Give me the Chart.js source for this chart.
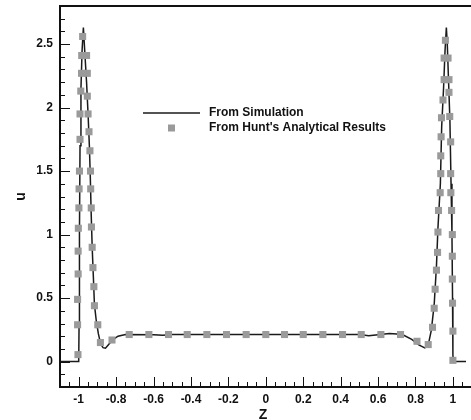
<!DOCTYPE html>
<html>
<head>
<meta charset="utf-8">
<script src="https://cdn.jsdelivr.net/npm/chart.js@4.4.1/dist/chart.umd.min.js"></script>
<style>
  body { margin: 0; background: #fff; }
  #wrap { width: 471px; height: 420px; }
</style>
</head>
<body>
<div id="wrap"><canvas id="u_profile" width="471" height="420"></canvas></div>
<script>
// simulated velocity profile u(Z)
const simZ = [-1.1, -1.0, -0.998, -0.996, -0.993, -0.988, -0.982, -0.975, -0.968, -0.958, -0.95, -0.943,
  -0.938, -0.933, -0.928, -0.922, -0.916, -0.906, -0.895, -0.883, -0.87, -0.857, -0.84, -0.82, -0.79, -0.75,
  -0.6, -0.55, -0.5, -0.3, 0, 0.3, 0.5, 0.55, 0.6, 0.66, 0.7, 0.74, 0.78, 0.82, 0.85, 0.868, 0.885, 0.9,
  0.912, 0.92, 0.933, 0.94, 0.95, 0.958, 0.965, 0.97, 0.977, 0.984, 0.99, 0.995, 0.998, 1.0, 1.003, 1.07];
const simU = [0, 0, 0.3, 1.0, 1.7, 2.15, 2.45, 2.63, 2.45, 2.2, 1.95, 1.7,
  1.45, 1.15, 0.9, 0.68, 0.45, 0.32, 0.22, 0.14, 0.11, 0.105, 0.135, 0.17, 0.2, 0.213,
  0.212, 0.207, 0.213, 0.213, 0.213, 0.213, 0.213, 0.203, 0.212, 0.222, 0.218, 0.205, 0.175, 0.13, 0.108, 0.13, 0.25, 0.45,
  0.75, 1.05, 1.4, 1.85, 2.15, 2.45, 2.63, 2.5, 2.2, 1.9, 1.4, 1.0, 0.5, 0.05, 0, 0];

// Hunt's analytical solution, sampled points
const huntZ = [-1.004, -1.006, -1.006, -1.003, -1.003, -1.002, -0.999, -0.998, -0.996, -0.993, -0.993, -0.989,
  -0.985, -0.984, -0.979, -0.958, -0.954, -0.954, -0.95, -0.945, -0.94, -0.937, -0.936, -0.933, -0.932, -0.928,
  -0.924, -0.919, -0.916, -0.898, -0.884, -0.822,
  -0.73, -0.625, -0.52, -0.42, -0.315, -0.21, -0.105, 0, 0.1, 0.2, 0.305, 0.41, 0.51, 0.615, 0.72,
  0.808, 0.868, 0.891, 0.9, 0.905, 0.912, 0.918, 0.92, 0.923, 0.932, 0.935, 0.935, 0.937, 0.939, 0.947, 0.953,
  0.953, 0.96, 0.974, 0.979, 0.979, 0.983, 0.988, 0.988, 0.989, 0.993, 0.997, 0.997, 0.997, 0.998, 1.0, 1.0];
const huntU = [0.055, 0.29, 0.49, 0.69, 0.87, 1.05, 1.21, 1.36, 1.5, 1.75, 1.95, 2.13,
  2.27, 2.41, 2.56, 2.41, 2.27, 2.09, 1.95, 1.81, 1.66, 1.5, 1.36, 1.21, 1.06, 0.9,
  0.74, 0.59, 0.44, 0.29, 0.15, 0.17,
  0.213, 0.213, 0.213, 0.213, 0.213, 0.213, 0.213, 0.213, 0.213, 0.213, 0.213, 0.213, 0.213, 0.213, 0.213,
  0.16, 0.134, 0.27, 0.42, 0.57, 0.72, 0.86, 1.02, 1.19, 1.33, 1.48, 1.62, 1.77, 1.92, 2.06, 2.22,
  2.39, 2.53, 2.39, 2.22, 2.12, 1.93, 1.73, 1.48, 1.33, 1.19, 1.0, 0.83, 0.65, 0.46, 0.24, 0.01];

// axis ticks
const xMajor = [-1, -0.8, -0.6, -0.4, -0.2, 0, 0.2, 0.4, 0.6, 0.8, 1];
const xMinor = [-1.05, -0.95, -0.9, -0.85, -0.75, -0.7, -0.65, -0.55, -0.5, -0.45, -0.35, -0.3, -0.25,
  -0.15, -0.1, -0.05, 0.05, 0.1, 0.15, 0.25, 0.3, 0.35, 0.45, 0.5, 0.55, 0.65, 0.7, 0.75, 0.85, 0.9, 0.95, 1.05];
const yMajor = [0, 0.5, 1, 1.5, 2, 2.5];
const yMinor = [-0.1, 0.1, 0.2, 0.3, 0.4, 0.6, 0.7, 0.8, 0.9, 1.1, 1.2, 1.3, 1.4, 1.6, 1.7, 1.8, 1.9,
  2.1, 2.2, 2.3, 2.4, 2.6, 2.7];

const FONT = "'Liberation Sans', Arial, sans-serif";
const LINE_COLOR = '#1a1a1a';
const MARK_COLOR = '#9a9a9a';

// frame on left/top/bottom plus inward tick marks
const frameTicks = {
  id: 'frameTicks',
  afterDatasetsDraw(chart) {
    const {ctx, chartArea: a, scales: {x, y}} = chart;
    ctx.save();
    ctx.strokeStyle = '#111';
    ctx.lineWidth = 1;
    ctx.beginPath();
    xMajor.forEach(v => { const p = Math.round(x.getPixelForValue(v)) + 0.5; ctx.moveTo(p, a.bottom); ctx.lineTo(p, a.bottom - 10); });
    xMinor.forEach(v => { const p = Math.round(x.getPixelForValue(v)) + 0.5; ctx.moveTo(p, a.bottom); ctx.lineTo(p, a.bottom - 5); });
    yMajor.forEach(v => { const p = Math.round(y.getPixelForValue(v)) + 0.5; ctx.moveTo(a.left, p); ctx.lineTo(a.left + 10, p); });
    yMinor.forEach(v => { const p = Math.round(y.getPixelForValue(v)) + 0.5; ctx.moveTo(a.left, p); ctx.lineTo(a.left + 5, p); });
    ctx.stroke();

    ctx.lineWidth = 2;
    ctx.beginPath();
    ctx.moveTo(chart.width, a.top);
    ctx.lineTo(a.left, a.top);
    ctx.lineTo(a.left, a.bottom);
    ctx.lineTo(chart.width, a.bottom);
    ctx.stroke();
    ctx.restore();
  }
};

// legend inside the plot
const innerLegend = {
  id: 'innerLegend',
  afterDraw(chart) {
    const {ctx, chartArea: a} = chart;
    const sets = chart.data.datasets;
    const x0 = a.left + 83, y0 = a.top + 107;
    ctx.save();
    ctx.strokeStyle = sets[0].borderColor;
    ctx.lineWidth = 1.5;
    ctx.beginPath();
    ctx.moveTo(x0, y0);
    ctx.lineTo(x0 + 57, y0);
    ctx.stroke();
    ctx.fillStyle = sets[1].backgroundColor;
    ctx.fillRect(x0 + 25, y0 + 11.5, 7, 7);
    ctx.fillStyle = '#111';
    ctx.font = 'bold 12px ' + FONT;
    ctx.textBaseline = 'middle';
    ctx.fillText(sets[0].label, x0 + 66, y0);
    ctx.fillText(sets[1].label, x0 + 66, y0 + 15);
    ctx.restore();
  }
};

const ctx = document.getElementById('u_profile').getContext('2d');

const u_chart = new Chart(ctx, {
  type: 'scatter',
  data: {
    datasets: [{
      label: 'From Simulation',
      data: simZ.map((z, i) => ({x: z, y: simU[i]})),
      showLine: true,
      borderColor: LINE_COLOR,
      borderWidth: 1.5,
      pointRadius: 0,
      order: 2,
    },
    {
      label: "From Hunt's Analytical Results",
      data: huntZ.map((z, i) => ({x: z, y: huntU[i]})),
      showLine: false,
      pointStyle: 'rect',
      pointRadius: 5,
      backgroundColor: MARK_COLOR,
      borderColor: MARK_COLOR,
      borderWidth: 0,
      order: 1,
    }]
  },
  options: {
    responsive: false,
    animation: false,
    layout: {padding: {top: 6, right: 0, bottom: 0, left: 0}},
    plugins: {
      legend: {display: false},
      tooltip: {enabled: false},
    },
    scales: {
      x: {
        type: 'linear',
        min: -1.1,
        max: 1.07,
        afterBuildTicks: s => { s.ticks = xMajor.map(v => ({value: v})); },
        afterFit: s => { s.height = 33; s.paddingLeft = 0; s.paddingRight = 0; },
        grid: {display: false, drawTicks: false},
        border: {display: false},
        ticks: {
          padding: 5,
          color: '#111',
          font: {family: FONT, size: 12, weight: 'bold'},
          maxRotation: 0,
          callback: v => String(v),
        },
        title: {
          display: true,
          text: 'Z',
          color: '#111',
          font: {family: FONT, size: 14, weight: 'bold', lineHeight: 1},
          padding: {top: 0, bottom: -2},
        }
      },
      y: {
        type: 'linear',
        min: -0.2,
        max: 2.8,
        afterBuildTicks: s => { s.ticks = yMajor.map(v => ({value: v})); },
        afterFit: s => { s.width = 60; s.paddingTop = 0; s.paddingBottom = 0; },
        grid: {display: false, drawTicks: false},
        border: {display: false},
        ticks: {
          padding: 7,
          color: '#111',
          font: {family: FONT, size: 12, weight: 'bold'},
          callback: v => String(v),
        },
        title: {
          display: true,
          text: 'u',
          color: '#111',
          font: {family: FONT, size: 14, weight: 'bold'},
          padding: {top: 13, bottom: 0},
        }
      }
    }
  },
  plugins: [frameTicks, innerLegend]
});
</script>
</body>
</html>
